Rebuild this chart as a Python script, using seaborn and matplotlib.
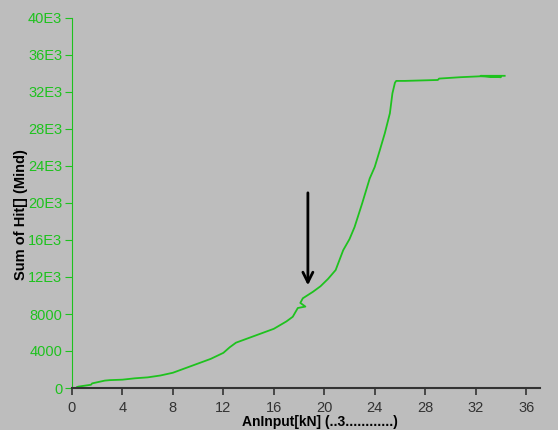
import matplotlib
matplotlib.use("Agg")
import matplotlib.pyplot as plt
import seaborn as sns

# ================================
# Data
# ================================

load_kn = [0.4, 0.5, 1.5, 1.6, 2.6, 3.0, 4.0, 5.0, 6.0, 7.0, 8.0, 9.0,
           10.0, 11.0, 12.0, 12.5, 13.0, 14.0, 15.0, 16.0, 17.0, 17.5,
           17.9, 18.5, 18.1, 18.3, 19.1, 19.7, 20.3, 20.9, 21.5, 22.0,
           22.4, 23.0, 23.6, 24.0, 24.4, 24.8, 25.2, 25.4,
           25.6, 25.7, 26.4, 29.0, 29.1, 30.8, 32.4, 34.0, 32.4, 34.3]

hit_sum = [100, 150, 350, 500, 800, 850, 900, 1050, 1150, 1350, 1650, 2150,
           2650, 3150, 3800, 4400, 4900, 5400, 5900, 6400, 7200, 7700,
           8650, 8800, 9200, 9700, 10400, 11000, 11800, 12750, 14900, 16100,
           17400, 19950, 22650, 23900, 25700, 27550, 29700, 31850,
           33000, 33200, 33200, 33300, 33450, 33600, 33700, 33600, 33750, 33750]

x_ticks = [0, 4, 8, 12, 16, 20, 24, 28, 32, 36]
y_ticks = [0, 4000, 8000, 12000, 16000, 20000, 24000, 28000, 32000, 36000, 40000]
y_tick_labels = ["0", "4000", "8000", "12E3", "16E3", "20E3", "24E3",
                 "28E3", "32E3", "36E3", "40E3"]

# ================================
# Plot
# ================================

bg = "#bdbdbd"
green = "#1ec21e"
dark = "#333333"

plt.rcParams["font.family"] = ["Liberation Sans", "DejaVu Sans"]

fig = plt.figure(figsize=(5.58, 4.30), dpi=100, facecolor=bg)
ax = fig.add_axes([72 / 558, 1 - 388 / 430, 468 / 558, 370 / 430])
ax.set_facecolor(bg)

sns.lineplot(x=load_kn, y=hit_sum, sort=False, estimator=None,
             color=green, linewidth=1.3, ax=ax)

ax.set_xlim(0, 37.1)
ax.set_ylim(0, 40000)

ax.set_xticks(x_ticks)
ax.set_xticklabels([str(t) for t in x_ticks])
ax.set_yticks(y_ticks)
ax.set_yticklabels(y_tick_labels)

for side in ["top", "right"]:
    ax.spines[side].set_visible(False)
ax.spines["left"].set_color(green)
ax.spines["bottom"].set_color(dark)
ax.spines["bottom"].set_linewidth(1.5)

ax.tick_params(axis="y", colors=green, labelsize=10.5, length=5, pad=2)
ax.tick_params(axis="x", colors=dark, labelsize=10.5, length=5, width=1.2, pad=4)

ax.set_ylabel("Sum of Hit[] (Mind)", fontsize=10.5, fontweight="bold", color="black")
ax.yaxis.set_label_coords(-0.094, 0.468)
ax.set_xlabel("AnInput[kN] (..3............)", fontsize=10, fontweight="bold", color="black")
ax.xaxis.set_label_coords(0.53, -0.072)

# arrow marking the jump
ax.annotate("", xy=(18.7, 10800), xytext=(18.7, 21400),
            arrowprops=dict(arrowstyle="->", color="black", lw=2,
                            mutation_scale=18))

fig.savefig("out.png", dpi=100, facecolor=bg)
